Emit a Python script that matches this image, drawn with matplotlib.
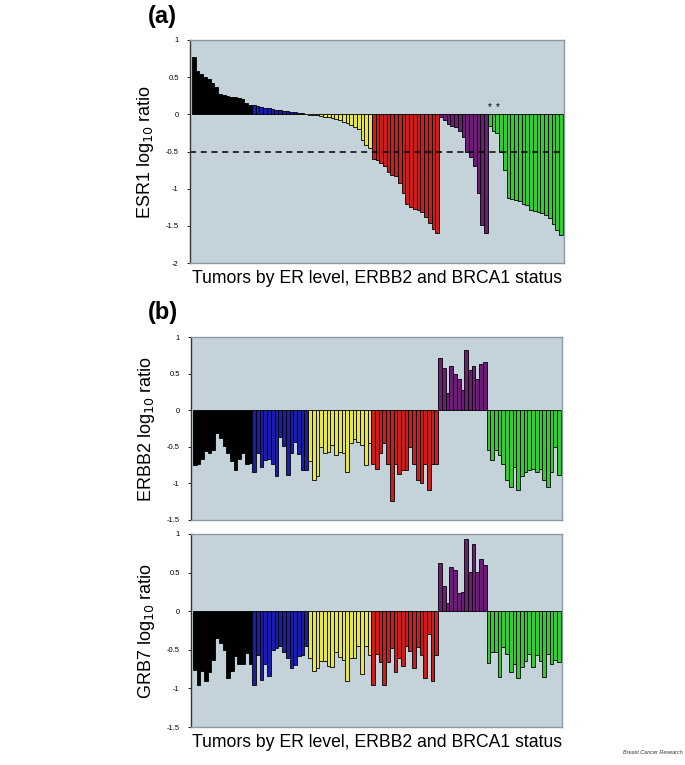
import numpy as np
import matplotlib.pyplot as plt

plt.rcParams['font.family'] = ['Liberation Sans', 'DejaVu Sans']

# group colours (black, blue, yellow, red, purple, green)
cores = ['#000000', '#1c1caa', '#e6e646', '#cc1c1c', '#6e1c78', '#33cc33']

# panel (a) ESR1 log10 ratio, per group
esr1_preto = [0.77, 0.58, 0.54, 0.50, 0.47, 0.42, 0.37, 0.28, 0.26, 0.24, 0.23, 0.23, 0.22, 0.20, 0.15, 0.12]
esr1_azul = [0.12, 0.11, 0.10, 0.09, 0.08, 0.07, 0.065, 0.055, 0.05, 0.04, 0.03, 0.025, 0.02, 0.015, 0.01]
esr1_amarelo = [-0.005, -0.01, -0.015, -0.02, -0.03, -0.04, -0.05, -0.06, -0.08, -0.10, -0.12, -0.14, -0.17, -0.20, -0.34, -0.41, -0.45]
esr1_vermelho = [-0.60, -0.62, -0.66, -0.70, -0.77, -0.82, -0.83, -0.93, -1.06, -1.20, -1.24, -1.27, -1.29, -1.31, -1.38, -1.46, -1.54, -1.59]
esr1_roxo = [-0.03, -0.07, -0.13, -0.16, -0.17, -0.22, -0.30, -0.50, -0.57, -0.70, -1.06, -1.49, -1.60]
esr1_verde = [-0.16, -0.23, -0.25, -0.50, -0.75, -1.13, -1.14, -1.15, -1.16, -1.20, -1.22, -1.29, -1.30, -1.31, -1.33, -1.36, -1.40, -1.47, -1.56, -1.63]

# panel (b) ERBB2 log10 ratio
erbb2_preto = [-0.75, -0.74, -0.66, -0.56, -0.58, -0.55, -0.31, -0.38, -0.49, -0.59, -0.70, -0.82, -0.66, -0.58, -0.73, -0.72]
erbb2_azul = [-0.85, -0.59, -0.78, -0.68, -0.67, -0.74, -0.90, -0.36, -0.49, -0.89, -0.59, -0.43, -0.60, -0.82, -0.82]
erbb2_amarelo = [-0.70, -0.95, -0.90, -0.50, -0.59, -0.57, -0.48, -0.61, -0.57, -0.58, -0.85, -0.45, -0.40, -0.43, -0.48, -0.75, -0.45]
erbb2_vermelho = [-0.73, -0.80, -0.58, -0.45, -0.74, -1.24, -0.73, -0.87, -0.82, -0.82, -0.50, -0.73, -0.96, -0.99, -0.73, -1.09, -0.74, -0.74]
erbb2_roxo = [0.71, 0.58, 0.24, 0.61, 0.50, 0.43, 0.28, 0.82, 0.55, 0.61, 0.43, 0.63, 0.66]
erbb2_verde = [-0.54, -0.68, -0.54, -0.61, -0.74, -0.95, -1.05, -0.77, -1.09, -0.90, -0.85, -0.82, -0.80, -0.84, -0.81, -0.95, -1.05, -0.84, -0.50, -0.89]

# panel (b) GRB7 log10 ratio
grb7_preto = [-0.76, -0.96, -0.77, -0.90, -0.79, -0.63, -0.35, -0.41, -0.50, -0.87, -0.77, -0.58, -0.69, -0.68, -0.54, -0.69]
grb7_azul = [-0.95, -0.57, -0.89, -0.68, -0.84, -0.50, -0.48, -0.45, -0.53, -0.60, -0.73, -0.70, -0.58, -0.57, -0.45]
grb7_amarelo = [-0.61, -0.77, -0.74, -0.65, -0.65, -0.71, -0.72, -0.53, -0.59, -0.63, -0.91, -0.61, -0.61, -0.45, -0.81, -0.45, -0.57]
grb7_vermelho = [-0.95, -0.56, -0.66, -0.95, -0.66, -0.48, -0.79, -0.61, -0.71, -0.45, -0.51, -0.74, -0.46, -0.57, -0.86, -0.29, -0.90, -0.57]
grb7_roxo = [0.62, 0.32, 0.10, 0.57, 0.53, 0.23, 0.25, 0.94, 0.51, 0.87, 0.51, 0.68, 0.60]
grb7_verde = [-0.67, -0.53, -0.53, -0.85, -0.46, -0.56, -0.79, -0.69, -0.87, -0.72, -0.64, -0.55, -0.72, -0.57, -0.64, -0.85, -0.56, -0.69, -0.63, -0.66]

esr1 = [esr1_preto, esr1_azul, esr1_amarelo, esr1_vermelho, esr1_roxo, esr1_verde]
erbb2 = [erbb2_preto, erbb2_azul, erbb2_amarelo, erbb2_vermelho, erbb2_roxo, erbb2_verde]
grb7 = [grb7_preto, grb7_azul, grb7_amarelo, grb7_vermelho, grb7_roxo, grb7_verde]

xlabel = 'Tumors by ER level, ERBB2 and BRCA1 status'
fundo = '#c4d2da'

W, H = 685, 765
fig = plt.figure(figsize=(W / 100, H / 100), dpi=100)


def eixo(x0, y0, x1, y1):
    # pixel box -> figure fraction
    return fig.add_axes([x0 / W, 1 - y1 / H, (x1 - x0) / W, (y1 - y0) / H])


def barras(ax, grupos, ymin, ymax, ylabel, ticks, labels):
    ax.set_facecolor(fundo)
    pos = 0
    for g, vals in enumerate(grupos):
        x = np.arange(pos, pos + len(vals))
        ax.bar(x, vals, width=1.0, align='edge', color=cores[g],
               edgecolor='black', linewidth=0.6)
        pos += len(vals)
    ax.set_xlim(-0.5, pos + 0.3)
    ax.set_ylim(ymin, ymax)
    ax.set_xticks([])
    ax.set_yticks(ticks)
    ax.set_yticklabels(labels, fontsize=5.5)
    ax.tick_params(axis='y', length=2, width=0.6, pad=6)
    for s in ax.spines.values():
        s.set_color('#8a9ca6')
        s.set_linewidth(1.0)
    ax.spines['left'].set_color('#333333')
    ax.set_ylabel(ylabel, fontsize=13, labelpad=7)
    return pos


# panel (a)
ax1 = eixo(190, 40, 564, 263)
n = barras(ax1, esr1, -2, 1, 'ESR1 log$_{10}$ ratio',
           [1, 0.5, 0, -0.5, -1, -1.5, -2], ['1', '0.5', '0', '-0.5', '-1', '-1.5', '-2'])
ax1.axhline(-0.5, color='black', linestyle=(0, (4, 3)), linewidth=1.1)
ini_verde = sum(len(v) for v in esr1[:5])
for k in [0, 2]:
    ax1.text(ini_verde + k + 0.5, 0.03, '*', ha='center', va='bottom', fontsize=7)
ax1.set_xlabel(xlabel, fontsize=12.7, labelpad=5)

# panel (b)
ax2 = eixo(191, 337, 562, 520)
barras(ax2, erbb2, -1.5, 1, 'ERBB2 log$_{10}$ ratio',
       [1, 0.5, 0, -0.5, -1, -1.5], ['1', '0.5', '0', '-0.5', '-1', '-1.5'])

ax3 = eixo(191, 534, 562, 727)
barras(ax3, grb7, -1.5, 1, 'GRB7 log$_{10}$ ratio',
       [1, 0.5, 0, -0.5, -1, -1.5], ['1', '0.5', '0', '-0.5', '-1', '-1.5'])
ax3.set_xlabel(xlabel, fontsize=12.7, labelpad=5)

fig.text(148 / W, 1 - 17 / H, '(a)', fontsize=17, fontweight='bold', va='center')
fig.text(148 / W, 1 - 312 / H, '(b)', fontsize=17, fontweight='bold', va='center')
fig.text(683 / W, 1 - 752 / H, 'Breast Cancer Research', fontsize=4, style='italic',
         ha='right', va='center', color='#333333')

plt.savefig('out.png', dpi=100)
